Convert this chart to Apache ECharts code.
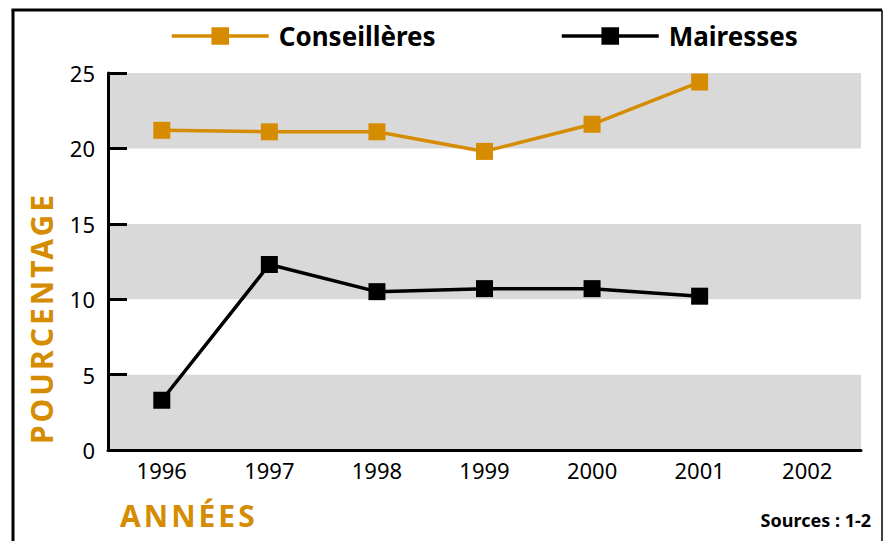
<!DOCTYPE html>
<html>
<head>
<meta charset="utf-8">
<script src="https://cdn.jsdelivr.net/npm/echarts@6/dist/echarts.min.js"></script>
<style>
html,body{margin:0;padding:0;background:#fff;}
#chart{width:885px;height:541px;}
#chart text[fill="#D68C00" i], #chart text[fill="rgb(214,140,0)"] { letter-spacing: 3px; }
</style>
</head>
<body>
<div id="chart"></div>
<script>
const years = ['1996','1997','1998','1999','2000','2001','2002'];
const conseilleres = [21.2, 21.1, 21.1, 19.8, 21.6, 24.4, null];
const mairesses = [3.3, 12.3, 10.5, 10.7, 10.7, 10.2, null];
const yTicks = { min: 0, max: 25, interval: 5 };

const ORANGE = '#D68C00';
const FONT = '"Noto Sans", "Open Sans", sans-serif';

const chart = echarts.init(document.getElementById('chart'), null, { renderer: 'svg' });

const legendText = { fontFamily: FONT, fontSize: 26, fontWeight: 'bold', color: '#000', padding: [0, 0, 0, 5] };

chart.setOption({
  animation: false,
  backgroundColor: '#fff',
  grid: { left: 108, right: 24, top: 73, bottom: 91, containLabel: false },
  legend: [
    {
      data: ['Conseillères'], left: 170, top: 23, padding: 0,
      itemWidth: 97, itemHeight: 22, itemGap: 0,
      lineStyle: { width: 3.5 },
      textStyle: legendText
    },
    {
      data: ['Mairesses'], left: 560, top: 23, padding: 0,
      itemWidth: 97, itemHeight: 22, itemGap: 0,
      lineStyle: { width: 3.5 },
      textStyle: legendText
    }
  ],
  xAxis: {
    type: 'category',
    data: years,
    boundaryGap: true,
    axisLine: { lineStyle: { color: '#000', width: 3 } },
    axisTick: { inside: true, length: 9, lineStyle: { color: '#000', width: 3 } },
    axisLabel: { fontFamily: FONT, fontSize: 22, color: '#000', margin: 9 },
    splitLine: { show: false }
  },
  yAxis: {
    type: 'value',
    min: yTicks.min, max: yTicks.max, interval: yTicks.interval,
    axisLine: { show: true, lineStyle: { color: '#000', width: 3 } },
    axisTick: { show: true, inside: true, length: 19, lineStyle: { color: '#000', width: 3 } },
    axisLabel: { fontFamily: FONT, fontSize: 22, color: '#000', margin: 13 },
    splitLine: { show: false },
    splitArea: { show: true, areaStyle: { color: ['#D9D9D9', '#FFFFFF'] } }
  },
  series: [
    {
      name: 'Conseillères', type: 'line', data: conseilleres,
      symbol: 'rect', symbolSize: 17,
      lineStyle: { color: ORANGE, width: 3.5 },
      itemStyle: { color: ORANGE }
    },
    {
      name: 'Mairesses', type: 'line', data: mairesses,
      symbol: 'rect', symbolSize: 17,
      lineStyle: { color: '#000', width: 3.5 },
      itemStyle: { color: '#000' }
    }
  ],
  graphic: [
    { type: 'line', shape: { x1: 13, y1: 10, x2: 13, y2: 541 }, style: { stroke: '#000', lineWidth: 3 } },
    { type: 'line', shape: { x1: 11.5, y1: 10, x2: 882, y2: 10 }, style: { stroke: '#000', lineWidth: 3 } },
    { type: 'line', shape: { x1: 882, y1: 10, x2: 882, y2: 541 }, style: { stroke: '#000', lineWidth: 1.5 } },
    {
      type: 'text', left: 120, top: 500,
      style: { text: 'ANNÉES', fontFamily: FONT, fontSize: 30, fontWeight: 'bold', fill: ORANGE }
    },
    {
      type: 'text', x: 41, y: 318, rotation: Math.PI / 2,
      style: { text: 'POURCENTAGE', fontFamily: FONT, fontSize: 30, fontWeight: 'bold', fill: ORANGE, align: 'center', verticalAlign: 'middle' }
    },
    {
      type: 'text', right: 14, top: 511,
      style: { text: 'Sources : 1-2', fontFamily: FONT, fontSize: 18, fontWeight: 'bold', fill: '#000' }
    }
  ]
});
</script>
</body>
</html>
